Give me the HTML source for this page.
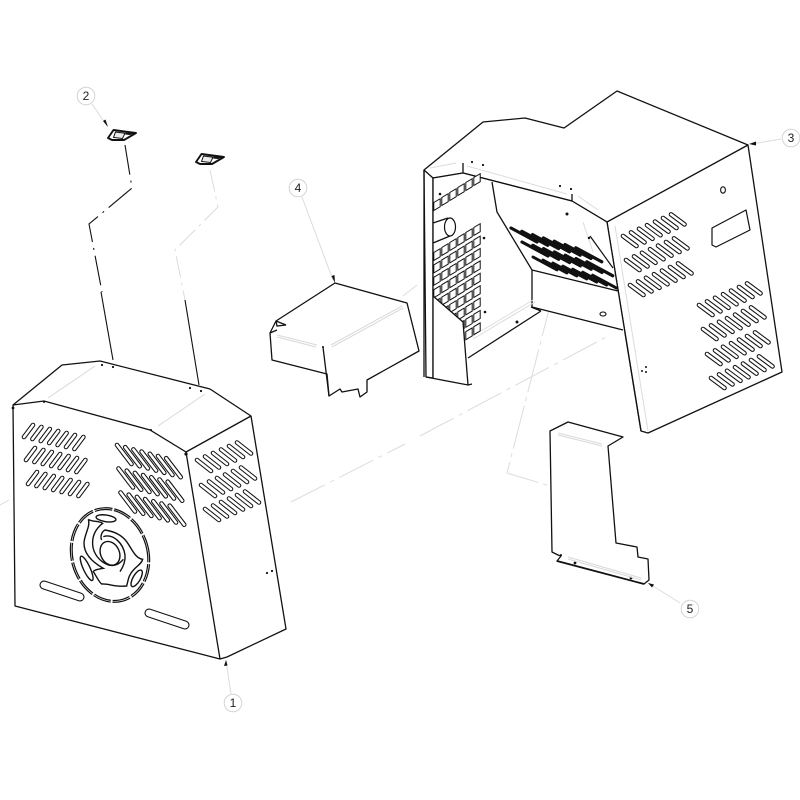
<!DOCTYPE html>
<html><head><meta charset="utf-8"><style>
html,body{margin:0;padding:0;background:#fff}
svg{display:block}
text{font-family:"Liberation Sans",sans-serif;font-size:12px;fill:#222;text-anchor:middle}
</style></head><body>
<svg width="800" height="800" viewBox="0 0 800 800" xmlns="http://www.w3.org/2000/svg">
<defs>
<path id="a" d="M0 0l9-12M8.4 2l9-12M16.8 4l9-12M25.2 6l9-12M33.6 8l9-12M42 10l9-12M50.4 12l9-12"/>
<path id="b" d="M0 0l14.5 19M8.2 2.2l14.5 19M16.4 4.4l14.5 19M24.6 6.6l14.5 19M32.8 8.8l14.5 19M41 11l14.5 19M49.2 13.2l14.5 19"/>
<path id="c" d="M0 0l14 11M8 -3.5l14 11M16 -7l14 11M24 -10.5l14 11M32 -14l14 11M40 -17.5l14 11"/>
<path id="d" d="M0 0l13.5 10M8 -3.6l13.5 10M16 -7.2l13.5 10M24 -10.8l13.5 10M32 -14.4l13.5 10M40 -18l13.5 10M48 -21.6l13.5 10"/>
<path id="e" d="M0 0l26 14M10.8 3.3l26 14M21.6 6.6l26 14M32.4 9.9l26 14M43.2 13.2l26 14M54 16.5l26 14M64.8 19.8l26 14"/>
<path id="sq" d="M-3.200 -2.500v8l6.400-3.800v-8z"/>
<g id="col"><use href="#sq"/><use href="#sq" y="12.4"/><use href="#sq" y="24.8"/><use href="#sq" y="37.2"/><use href="#sq" y="49.6"/><use href="#sq" y="62"/><use href="#sq" y="74.4"/><use href="#sq" y="86.8"/><use href="#sq" y="99.2"/></g>
<g id="clip">
<path fill="#fff" stroke="#111" stroke-width="1.9" stroke-linejoin="round" d="M108 138L113.500 130 136 133 124 140 112 140z"/>
<path fill="#ececec" stroke="#111" stroke-width="1" d="M115.500 132L125 133.200 122.500 138.500 113.500 137.500z"/>
<path fill="#111" d="M126 132.500l8 1-4 1.500-5-.5z"/>
</g>
</defs>

<!-- center / phantom lines -->
<g fill="none" stroke="#dcdcdc" stroke-width="1">
<path d="M210 170l8 37-43 43 10 50" stroke-dasharray="22 5 3 5"/>
<path d="M291 502L405 444M420 436L610 335" stroke-dasharray="38 6 4 6"/>
<path d="M0 505l9-5M403 296l14-11"/>
<path d="M497 277L553 294 507 473 550 486" stroke-dasharray="44 5 4 5"/>
<path d="M92 104l15 22M231 694l-5-33M781 139l-29 5M302 197l31 83M680 603l-30-19"/>
<path d="M50 398L95 368M157 428L205 395M468 162L521 122M580 195L685 125"/>
<path d="M438 170l26-5M467 166l100 28M578 196l20 14M583 222l10 30"/>
</g>

<!-- dash-dot assembly line -->
<g fill="none" stroke="#111" stroke-width="1.1">
<path d="M125 145l7 43-43 36 13 68" stroke-dasharray="30 6 2 6"/>
<path d="M101 292l12 68M185 300l14 85"/>
</g>

<!-- clips -->
<use href="#clip"/>
<use href="#clip" x="88" y="24"/>

<!-- part 1 -->
<path fill="#fff" stroke="#111" stroke-width="1.3" stroke-linejoin="round" d="M13 405L62 365 100 361 210 389 251 416 286 629 227 657 220 659 15 606z"/>
<path fill="none" stroke="#111" stroke-width="1.3" d="M13 405L44 401 150 430 186 452 220 659M186 452L251 416"/>
<path fill="none" stroke="#d8d8d8" d="M48 398L95 366M158 426L205 394"/>
<g fill="none" stroke="#111" stroke-width="4.6" stroke-linecap="round">
<use href="#a" x="24" y="437"/><use href="#a" x="26" y="460"/><use href="#a" x="28" y="484"/>
<use href="#b" x="117" y="445"/><use href="#b" x="118.500" y="468.500"/><use href="#b" x="120.500" y="492.500"/>
<use href="#c" x="197" y="460"/><use href="#c" x="201" y="485"/><use href="#c" x="205" y="509"/>
</g>
<g fill="none" stroke="#fff" stroke-width="2.5" stroke-linecap="round">
<use href="#a" x="24" y="437"/><use href="#a" x="26" y="460"/><use href="#a" x="28" y="484"/>
<use href="#b" x="117" y="445"/><use href="#b" x="118.500" y="468.500"/><use href="#b" x="120.500" y="492.500"/>
<use href="#c" x="197" y="460"/><use href="#c" x="201" y="485"/><use href="#c" x="205" y="509"/>
</g>
<g fill="none" stroke-linecap="round">
<path stroke="#111" stroke-width="9" d="M44 585L80 597M149 613L185 625"/>
<path stroke="#fff" stroke-width="6.800" d="M44 585L80 597M149 613L185 625"/>
</g>
<!-- fan -->
<g transform="rotate(-16 110 555)" fill="none">
<ellipse cx="110" cy="555" rx="38" ry="47" stroke="#111" stroke-width="3" stroke-dasharray="18 1.8"/>
<ellipse cx="110" cy="555" rx="38" ry="47" stroke="#fff" stroke-width="0.6"/>
</g>
<g transform="translate(60 500) scale(.33333)" fill="none" stroke="#111" stroke-width="4.2">
<ellipse cx="138" cy="55" rx="30" ry="10" transform="rotate(8 138 55)"/>
<ellipse cx="230" cy="235" rx="11" ry="28" transform="rotate(30 230 235)"/>
<ellipse cx="80" cy="205" rx="10" ry="40" transform="rotate(-25 80 205)"/>
<ellipse cx="150" cy="160" rx="28" ry="37" transform="rotate(-25 150 160)"/>
<path d="M85 58C100 68 112 60 128 70C105 88 96 110 98 135C100 160 118 185 145 195C165 200 178 192 190 178"/>
<path d="M85 58C92 80 72 105 72 130C72 160 95 185 130 205C110 208 100 212 100 215C110 230 118 248 125 252C145 250 165 262 200 258C205 240 205 225 222 208C235 195 245 190 248 178C225 175 215 145 200 125C185 105 165 95 135 90C125 95 120 110 125 120"/>
<path d="M130 110C160 100 190 130 195 165C197 185 190 200 180 215"/>
</g>
<g fill="#111"><circle cx="102" cy="365" r="1.1"/><circle cx="113" cy="367" r="1.1"/><circle cx="190" cy="388" r="1.1"/><circle cx="201" cy="391" r="1.1"/><circle cx="267" cy="573" r="1.1"/><circle cx="272" cy="571" r="1.1"/><circle cx="186" cy="454" r="1.6"/><circle cx="13" cy="408" r="1.4"/><circle cx="44" cy="402" r="1"/><circle cx="151" cy="430" r="1"/></g>

<!-- part 3 -->
<path fill="#fff" stroke="#111" stroke-width="1.3" stroke-linejoin="round" d="M424 170L483 122 525 118 564 128 617 91 748 145 782 372 648 433 641 431 607 222 572 201 463 173 433 178V378L426 377z"/>
<path fill="none" stroke="#111" stroke-width="1.3" d="M424 170L433 178M607 222L748 145"/>
<path fill="#fff" stroke="none" d="M433 178L463 173 572 201 607 222 625 332 531 307 541 311 468 358 463 380 433 378z"/>
<path fill="none" stroke="#111" stroke-width="1.3" d="M433 178L463 173V163M463 173L572 201V194M572 201L607 222 641 431M424 170V377M492 182L497 212 532 270V307L623 330M532 270L618 291M541 311L468 358M531 307L541 311"/>
<path fill="none" stroke="#dcdcdc" d="M430 168l26-5M467 166l100 28M578 196l20 14M583 222l10 30M471 337l62-37M473 339l62-37M615 226l33 205"/>
<g fill="#fff" stroke="#111" stroke-width="1">
<use href="#col" x="437" y="255"/><use href="#col" x="445" y="250"/><use href="#col" x="453" y="245"/><use href="#col" x="461" y="240"/><use href="#col" x="469" y="235"/><use href="#col" x="477" y="230"/>
<use href="#sq" x="437" y="205"/><use href="#sq" x="445" y="200"/><use href="#sq" x="453" y="195"/><use href="#sq" x="461" y="190"/><use href="#sq" x="469" y="185"/><use href="#sq" x="477" y="180"/>
</g>
<path fill="#fff" stroke="none" d="M433 223L450 218V240L433 243zM433 296V378L468 385 463 322z"/>
<path fill="none" stroke="#111" stroke-width="1.3" d="M433 223L448 218M433 243L450 236M433 296L463 322 468 385 426 377M468 385l4-1M433 178V378"/>
<ellipse cx="450" cy="227" rx="5.5" ry="9" fill="#fff" stroke="#111" stroke-width="1.2"/>
<!-- dark slots -->
<g fill="none" stroke="#111" stroke-width="3.2" stroke-linecap="round">
<use href="#e" x="511" y="228"/>
<use href="#e" x="522" y="242"/>
<use href="#e" transform="translate(533 257) scale(.92)"/>
</g>
<path fill="none" stroke="#111" stroke-width="1.2" d="M590 236L613 268"/>
<!-- side slots -->
<g fill="none" stroke="#111" stroke-width="4.6" stroke-linecap="round">
<use href="#d" x="623" y="236"/><use href="#d" x="626" y="260"/><use href="#d" x="630" y="285"/>
<use href="#d" x="699" y="305"/><use href="#d" x="703" y="329"/><use href="#d" x="707" y="354"/><use href="#d" x="711" y="378"/>
</g>
<g fill="none" stroke="#fff" stroke-width="2.5" stroke-linecap="round">
<use href="#d" x="623" y="236"/><use href="#d" x="626" y="260"/><use href="#d" x="630" y="285"/>
<use href="#d" x="699" y="305"/><use href="#d" x="703" y="329"/><use href="#d" x="707" y="354"/><use href="#d" x="711" y="378"/>
</g>
<path fill="#fff" stroke="#111" stroke-width="1.2" stroke-linejoin="round" d="M712 228L746 210 750 230 716 247 712 245z"/>
<ellipse cx="723" cy="190" rx="2.4" ry="3.2" fill="none" stroke="#111" stroke-width="1.1"/>
<ellipse cx="603" cy="314" rx="3" ry="2" fill="none" stroke="#111" stroke-width="1.1"/>
<g fill="#111"><circle cx="567" cy="214" r="1.5"/><circle cx="484" cy="238" r="1.3"/><circle cx="440" cy="194" r="1.3"/><circle cx="485" cy="312" r="1.3"/><circle cx="517" cy="322" r="1.5"/><circle cx="472" cy="162" r="1.1"/><circle cx="483" cy="165" r="1.1"/><circle cx="560" cy="186" r="1.1"/><circle cx="571" cy="189" r="1.1"/><circle cx="642" cy="371" r="1"/><circle cx="646" cy="367" r="1"/><circle cx="646" cy="372" r="1"/><circle cx="589" cy="238" r="1.2"/></g>

<!-- part 4 -->
<path fill="#fff" stroke="#111" stroke-width="1.3" stroke-linejoin="round" d="M335 283L276 321 270 333 272 360 327 374 329 396 340 389 342 392 358 389 360 397 367 392 367 380 419 351 407 303z"/>
<path fill="none" stroke="#111" stroke-width="1.3" d="M323 347L329 396M276 321l1 5 9-1-10-4M270 333l7-3"/>
<circle cx="323" cy="347" r="1" fill="#111"/>
<g fill="none" stroke="#d8d8d8" stroke-width="1"><path d="M277 335l40 10M277 337l39 10M331 345l71-39M332 347l71-39"/></g>

<!-- part 5 -->
<path fill="#fff" stroke="#111" stroke-width="1.3" stroke-linejoin="round" d="M550 431L568 422 623 437 608 446 616 543 637 547 638 557 648 559 649 580 644 584 557 561 561 556 558 555 552 552z"/>
<path fill="none" stroke="#111" stroke-width="1.7" d="M557 561L644 584"/>
<g fill="#111"><circle cx="575" cy="563" r="1.4"/><circle cx="631" cy="578" r="1.4"/><circle cx="561" cy="555" r="1"/></g>
<g fill="none" stroke="#d8d8d8" stroke-width="1"><path d="M558 433l44 11M558 435l44 11M568 557l73 21M568 559l73 21"/></g>

<!-- arrowheads -->
<g fill="#111"><path d="M108 127l-5-6 2.500-1.500zM226 660l-2 6 3.500-.5zM749 144l7-2.500 0 4zM335 283l-3.500-7 3-1zM648 583l6 1.500-2 3z"/></g>

<!-- callouts -->
<g fill="#fff" stroke="#d4d4d4" stroke-width="1">
<circle cx="86" cy="96" r="8.800"/><circle cx="233" cy="703" r="8.800"/><circle cx="791" cy="138" r="8.800"/><circle cx="298" cy="188" r="8.800"/><circle cx="690" cy="609" r="8.800"/>
</g>
<text x="86" y="100">2</text><text x="233" y="707">1</text><text x="791" y="142">3</text><text x="298" y="192">4</text><text x="690" y="613">5</text>
</svg>
</body></html>
